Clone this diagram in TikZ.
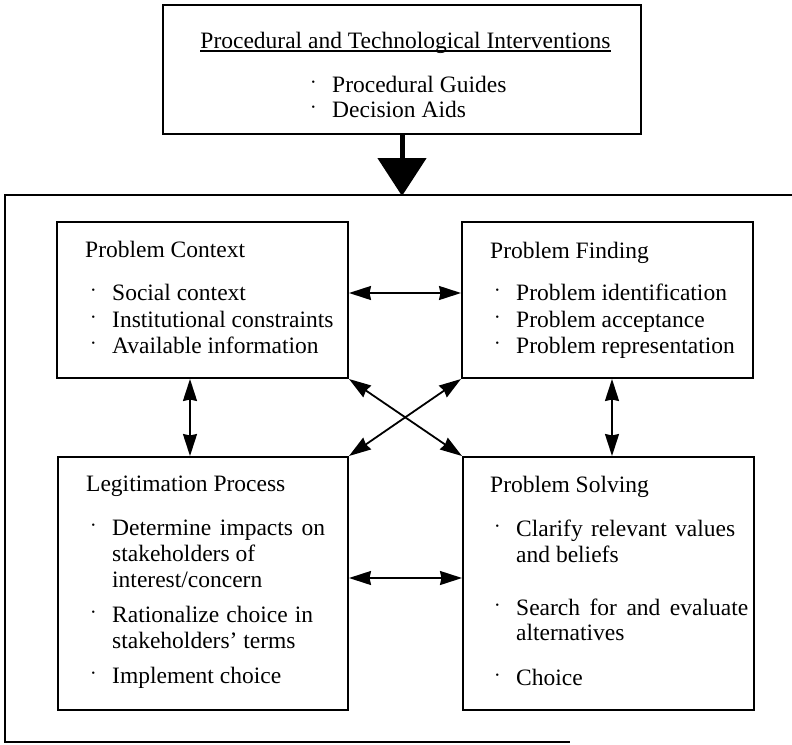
\documentclass[tikz,border=0pt]{standalone}
\usepackage{fontspec}
\setmainfont{Liberation Serif}
\usetikzlibrary{arrows.meta}
% small raised dot hung to the left of each listed item
\newcommand\itemdot{\llap{\raisebox{6.5pt}{\fontsize{10pt}{10pt}\selectfont\textbullet}\hspace{17pt}}}
\begin{document}
\begin{tikzpicture}[x=1pt,y=-1pt,
  box/.style={draw, line width=2pt, inner sep=0pt},
  txt/.style={anchor=base west, inner sep=0pt, font=\fontsize{23.5pt}{26pt}\selectfont},
  link/.style={line width=1.8pt, {Stealth[length=22pt,width=14pt,inset=1.5pt]}-{Stealth[length=22pt,width=14pt,inset=1.5pt]}},
  frame/.style={line width=2pt}]
\useasboundingbox (0,0) rectangle (792,744);

% outer frame (open on the right)
\coordinate (ftr) at (792,195);
\coordinate (ftl) at (5,195);
\coordinate (fbl) at (5,742);
\coordinate (fbr) at (570,742);
\draw[frame] (ftr) -- (ftl) -- (fbl) -- (fbr);

% interventions box
\node[box, minimum width=478, minimum height=129] (top) at (402,69.5) {};
\node[txt, anchor=base] (tt) at (405.5,48) {Procedural and Technological Interventions};
\draw[line width=1.2pt] ([yshift=-3pt]tt.base west) -- ([yshift=-3pt]tt.base east);
\node[txt] (t1) at (332,92) {\itemdot Procedural Guides};
\node[txt] (t2) at (332,117) {\itemdot Decision Aids};

% big arrow into the frame
\coordinate (bigtip) at (402,196);
\draw[line width=5pt, -{Triangle[length=38pt,width=48pt]}] (top.south) -- (bigtip);

% the four process boxes
\node[box, minimum width=291, minimum height=156] (pc) at (202.5,300) {};
\node[box, minimum width=291, minimum height=156] (pf) at (607.5,300) {};
\node[box, minimum width=290, minimum height=253] (lp) at (203,583.5) {};
\node[box, minimum width=291, minimum height=253] (ps) at (608.5,583.5) {};

% Problem Context
\node[txt] (pct) at (85,257) {Problem Context};
\node[txt] (pc1) at (112,300) {\itemdot Social context};
\node[txt] (pc2) at (112,327) {\itemdot Institutional constraints};
\node[txt] (pc3) at (112,353) {\itemdot Available information};

% Problem Finding
\node[txt] (pft) at (490,258) {Problem Finding};
\node[txt] (pf1) at (516,300) {\itemdot Problem identification};
\node[txt] (pf2) at (516,327) {\itemdot Problem acceptance};
\node[txt] (pf3) at (516,353) {\itemdot Problem representation};

% Legitimation Process
\node[txt] (lpt) at (86,491) {Legitimation Process};
\node[txt] (lp1) at (112,535) {\itemdot\makebox[213pt][s]{Determine impacts on}};
\node[txt] (lp2) at (112,561) {stakeholders of};
\node[txt] (lp3) at (112,587) {interest/concern};
\node[txt] (lp4) at (112,622) {\itemdot\makebox[201pt][s]{Rationalize choice in}};
\node[txt] (lp5) at (112,648) {stakeholders' terms};
\node[txt] (lp6) at (112,683) {\itemdot Implement choice};

% Problem Solving
\node[txt] (pst) at (490,492) {Problem Solving};
\node[txt] (ps1) at (516,536) {\itemdot\makebox[219pt][s]{Clarify relevant values}};
\node[txt] (ps2) at (516,562) {and beliefs};
\node[txt] (ps3) at (516,615) {\itemdot\makebox[232pt][s]{Search for and evaluate}};
\node[txt] (ps4) at (516,640) {alternatives};
\node[txt] (ps5) at (516,685) {\itemdot Choice};

% two-way connectors
\draw[link] ([yshift=7pt]pc.east) -- ([yshift=7pt]pf.west);
\draw[link] ([xshift=-12.5pt]pc.south) -- ([xshift=-13pt]lp.north);
\draw[link] ([xshift=4.5pt]pf.south) -- ([xshift=3.5pt]ps.north);
\draw[link] ([yshift=5.5pt]lp.east) -- ([yshift=5.5pt]ps.west);
\draw[link] (pc.south east) -- (ps.north west);
\draw[link] (pf.south west) -- (lp.north east);
\end{tikzpicture}
\end{document}
